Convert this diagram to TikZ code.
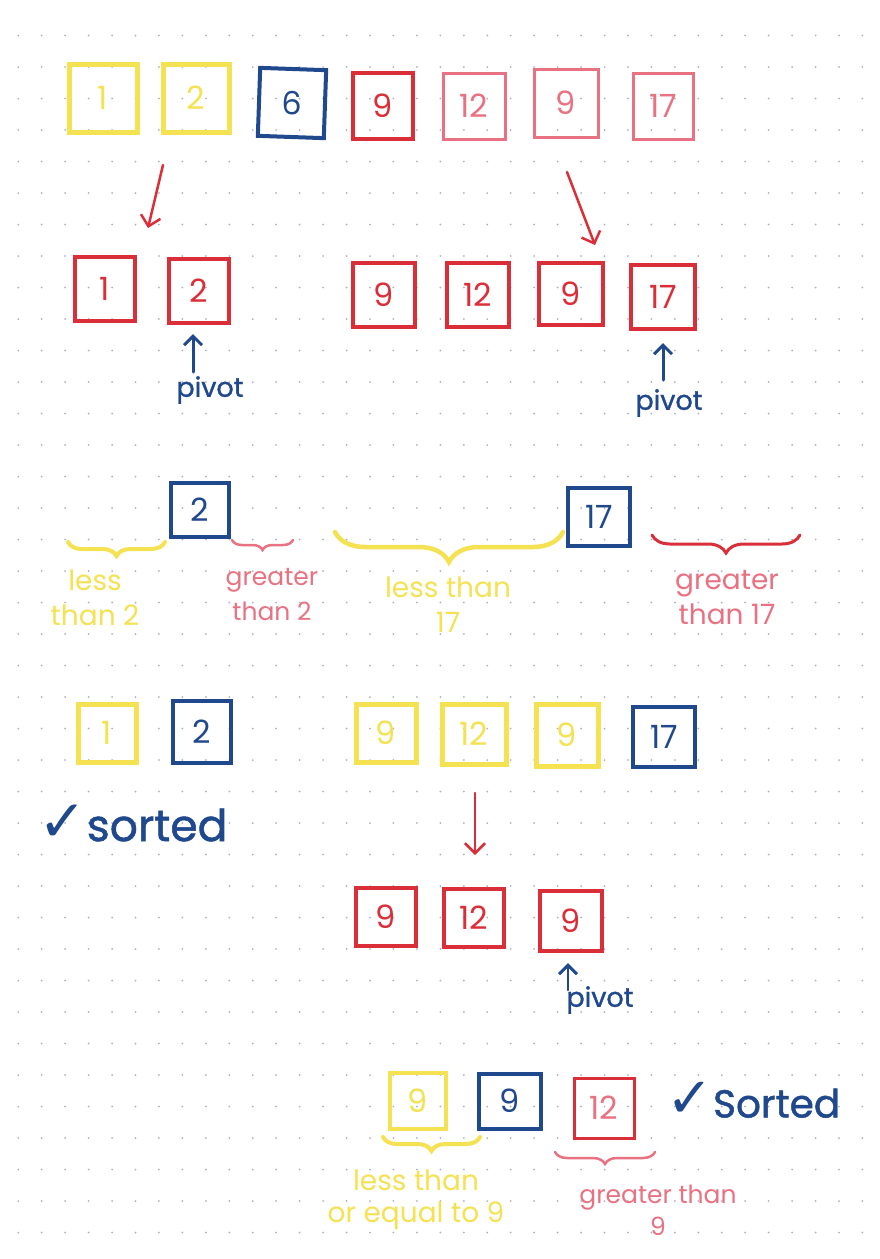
\documentclass[tikz,border=0pt]{standalone}
\usepackage{fontspec}
\setmainfont{Poppins}
\newfontfamily\thickfont{Poppins}[FakeBold=1.2]
\newfontfamily\symfont{DejaVu Sans}
\usetikzlibrary{arrows.meta,decorations.pathreplacing}
\definecolor{ylw}{RGB}{244,226,82}
\definecolor{blu}{RGB}{32,72,140}
\definecolor{rd}{RGB}{218,46,56}
\definecolor{pnk}{RGB}{232,114,130}
\definecolor{dotc}{RGB}{172,178,198}
\begin{document}
\begin{tikzpicture}[x=1pt,y=-1pt,
  wh/.style 2 args={minimum width=#1pt,minimum height=#2pt},
  sqbox/.style={draw,inner sep=0pt,font=\fontsize{32}{32}\selectfont},
  ybox/.style={sqbox,draw=ylw,line width=5pt,text=ylw},
  bbox/.style={sqbox,draw=blu,line width=4pt,text=blu},
  rbox/.style={sqbox,draw=rd,line width=4pt,text=rd},
  pbox/.style={sqbox,draw=pnk,line width=3pt,text=pnk},
  redarrow/.style={draw=rd,line width=2.5pt,line cap=round,-{Straight Barb[length=10pt,width=20pt,line width=2.5pt]}},
  bluarrow/.style={draw=blu,line width=3pt,line cap=round,-{Straight Barb[length=9pt,width=18pt,line width=3pt]}},
  pivlab/.style={text=blu,font=\thickfont\fontsize{27}{27}\selectfont,inner sep=0pt},
  lab/.style={align=center,inner sep=0pt,font=\fontsize{28}{35}\selectfont},
  brc/.style={decorate,decoration={brace,mirror,amplitude=#1pt},line width=4pt,line cap=round},
  sortlab/.style={text=blu,inner sep=0pt,font=\thickfont\fontsize{44}{44}\selectfont}
]
\useasboundingbox (0,0) rectangle (880,1259);
\fill[white] (0,0) rectangle (880,1259);
\foreach \i in {-1,...,36}{\foreach \j in {-21,...,17}{
  \fill[dotc] ({41.7+23.45*\i},{697+31.5*\j}) circle (1pt);}}

% row 1
\node[ybox,wh={68}{68}] (a1) at (103,98) {1};
\node[ybox,wh={66}{68}] (a2) at (196,98) {2};
\node[bbox,wh={66}{68},rotate=-2] (a3) at (292,103) {6};
\node[rbox,wh={60}{66}] (a4) at (383,106) {9};
\node[pbox,wh={62}{66}] (a5) at (474,106) {12};
\node[pbox,wh={64}{68}] (a6) at (566,103) {9};
\node[pbox,wh={60}{66}] (a7) at (663,106) {17};

% arrows row1 -> row2
\coordinate (r1s) at (163,165);
\coordinate (r1e) at (148,228);
\coordinate (r2s) at (567,172);
\coordinate (r2e) at (595,245);
\draw[redarrow] (r1s) -- (r1e);
\draw[redarrow] (r2s) -- (r2e);

% row 2
\node[rbox,wh={60}{64}] (b1) at (105,289) {1};
\node[rbox,wh={60}{64}] (b2) at (199,291) {2};
\node[rbox,wh={62}{64}] (b3) at (384,295) {9};
\node[rbox,wh={62}{64}] (b4) at (478,295) {12};
\node[rbox,wh={64}{62}] (b5) at (571,294) {9};
\node[rbox,wh={64}{64}] (b6) at (663,297) {17};

% pivots row 2
\node[pivlab] (pv1) at (210,390) {pivot};
\node[pivlab] (pv2) at (669,403) {pivot};
\coordinate (pa1) at (193,372);
\coordinate (pa2) at (663,380);
\draw[bluarrow,shorten >=9pt] (pa1) -- (pa1 |- b2.south);
\draw[bluarrow,shorten >=12pt] (pa2) -- (pa2 |- b6.south);

% row 3
\node[bbox,wh={58}{54}] (c1) at (200,510) {2};
\node[bbox,wh={62}{58}] (c2) at (599,517) {17};

\coordinate (q1a) at (68,542);  \coordinate (q1b) at (165,542);
\coordinate (q2a) at (232,540); \coordinate (q2b) at (293,540);
\coordinate (q3a) at (335,532); \coordinate (q3b) at (563,532);
\coordinate (q4a) at (652,535); \coordinate (q4b) at (800,535);
\draw[brc=14,draw=ylw] (q1a) -- (q1b);
\draw[brc=10,draw=pnk,line width=2.5pt] (q2a) -- (q2b);
\draw[brc=30,draw=ylw,line width=4.5pt] (q3a) -- (q3b);
\draw[brc=18,draw=rd,line width=3pt] (q4a) -- (q4b);

\node[lab,text=ylw] (l1) at (95,598) {less\\than 2};
\node[lab,text=pnk,font=\fontsize{25}{35}\selectfont] (l2) at (272,595) {greater\\than 2};
\node[lab,text=ylw] (l3) at (448,605) {less than\\17};
\node[lab,text=pnk] (l4) at (727,598) {greater\\than 17};

% row 4
\node[ybox,wh={58}{58}] (d1) at (107,733) {1};
\node[bbox,wh={58}{62}] (d2) at (202,732) {2};
\node[ybox,wh={60}{58}] (d3) at (386,733) {9};
\node[ybox,wh={64}{60}] (d4) at (474,734) {12};
\node[ybox,wh={62}{62}] (d5) at (567,735) {9};
\node[bbox,wh={62}{60}] (d6) at (664,737) {17};

\node[sortlab,anchor=west] (s1) at (38,823) {{\symfont\fontsize{58}{58}\selectfont ✓}sorted};

\coordinate (r3s) at (475,793);
\coordinate (r3e) at (475,855);
\draw[redarrow] (r3s) -- (r3e);

% row 5
\node[rbox,wh={60}{58}] (e1) at (386,917) {9};
\node[rbox,wh={60}{58}] (e2) at (474,918) {12};
\node[rbox,wh={62}{60}] (e3) at (571,921) {9};
\node[pivlab] (pv3) at (600,1000) {pivot};
\coordinate (pa3) at (568,990);
\draw[bluarrow,line width=2.5pt,shorten >=10pt] (pa3) -- (pa3 |- e3.south);

% row 6
\node[ybox,wh={56}{56},line width=4pt] (f1) at (418,1101) {9};
\node[bbox,wh={62}{55}] (f2) at (510,1101) {9};
\node[rbox,wh={60}{60},line width=3pt,text=pnk] (f3) at (604,1108) {12};
\node[sortlab,anchor=west,font=\thickfont\fontsize{39}{39}\selectfont] (s2) at (666,1100) {{\symfont\fontsize{56}{56}\selectfont ✓}Sorted};

\coordinate (q5a) at (383,1137); \coordinate (q5b) at (480,1137);
\coordinate (q6a) at (555,1152); \coordinate (q6b) at (655,1152);
\draw[brc=14,draw=ylw] (q5a) -- (q5b);
\draw[brc=12,draw=pnk,line width=2.5pt] (q6a) -- (q6b);

\node[lab,text=ylw,font=\fontsize{28}{32}\selectfont] (l5) at (416,1200) {less than\\or equal to 9};
\node[lab,text=pnk,font=\fontsize{25}{32}\selectfont] (l6) at (658,1210) {greater than\\9};
\end{tikzpicture}
\end{document}
